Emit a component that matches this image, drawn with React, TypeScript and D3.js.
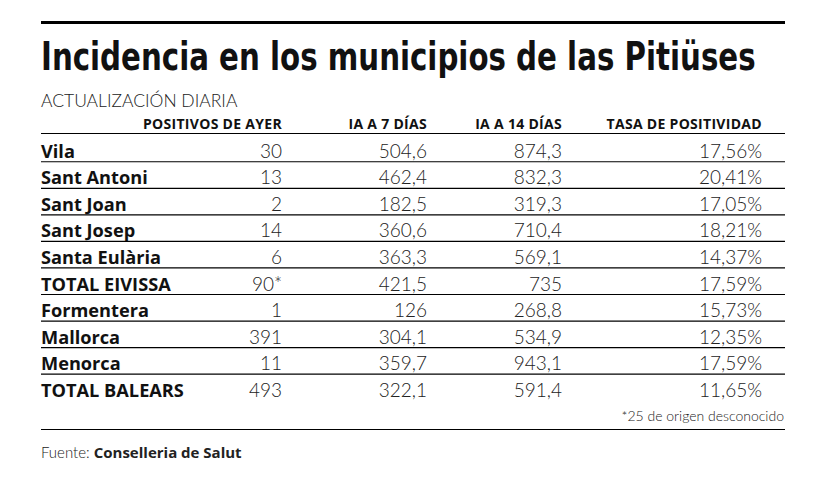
import React, { useLayoutEffect, useRef, useState } from 'react';
import * as d3 from 'd3';

const title = 'Incidencia en los municipios de las Pitiüses';
const subtitle = 'ACTUALIZACIÓN DIARIA';
const headers = ['POSITIVOS DE AYER', 'IA A 7 DÍAS', 'IA A 14 DÍAS', 'TASA DE POSITIVIDAD'];
const places = [
  'Vila',
  'Sant Antoni',
  'Sant Joan',
  'Sant Josep',
  'Santa Eulària',
  'TOTAL EIVISSA',
  'Formentera',
  'Mallorca',
  'Menorca',
  'TOTAL BALEARS'
];
const positivos = [30, 13, 2, 14, 6, 90, 1, 391, 11, 493];
const positivosMark = ['', '', '', '', '', '*', '', '', '', ''];
const ia7 = [504.6, 462.4, 182.5, 360.6, 363.3, 421.5, 126, 304.1, 359.7, 322.1];
const ia14 = [874.3, 832.3, 319.3, 710.4, 569.1, 735, 268.8, 534.9, 943.1, 591.4];
const tasa = [17.56, 20.41, 17.05, 18.21, 14.37, 17.59, 15.73, 12.35, 17.59, 11.65];
const footnote = '*25 de origen desconocido';
const sourceLabel = 'Fuente: ';
const sourceName = 'Conselleria de Salut';

const W = 826,
  H = 486;
const left = 41,
  right = 785;
const titleWidth = 715;

const es = d3.formatLocale({ decimal: ',', thousands: '.', grouping: [3], currency: ['', '€'] });
const fmt1 = (v: number) => (Number.isInteger(v) ? es.format('d')(v) : es.format('.1f')(v));
const fmt2 = (v: number) => es.format('.2f')(v) + '%';

const lightFont = 'Lato, "Open Sans", sans-serif';
const heavyFont = '"Open Sans", Lato, sans-serif';

export default function App() {
  const titleRef = useRef<SVGTextElement>(null);
  const [sx, setSx] = useState(1);

  // squeeze the title horizontally so it spans the same width as the original
  useLayoutEffect(() => {
    if (!titleRef.current) return;
    const w = titleRef.current.getComputedTextLength();
    if (w > 0) setSx(titleWidth / w);
  }, []);

  const y = d3
    .scaleBand<string>()
    .domain(places)
    .range([135.2, 400.7])
    .padding(0);
  const bw = y.bandwidth();

  // right edges of the four value columns
  const colX = d3.scaleOrdinal<number, number>().domain([0, 1, 2, 3]).range([282, 427, 562, 762]);

  const cells = [
    (i: number) => positivos[i] + positivosMark[i],
    (i: number) => fmt1(ia7[i]),
    (i: number) => fmt1(ia14[i]),
    (i: number) => fmt2(tasa[i])
  ];

  return (
    <svg
      width={W}
      height={H}
      style={{ position: 'absolute', left: 0, top: 0, background: '#fff' }}
    >
      <rect width={W} height={H} fill="#fff" />
      <line x1={left} x2={right} y1={22.5} y2={22.5} stroke="#000" strokeWidth={3} />
      <text
        ref={titleRef}
        transform={`translate(${left},70) scale(${sx},1)`}
        fontFamily='"Liberation Sans Narrow", "DejaVu Sans Condensed", Roboto, sans-serif'
        fontWeight={700}
        fontSize={39}
        fill="#111"
      >
        {title}
      </text>
      <text x={left} y={107} fontFamily={lightFont} fontWeight={300} fontSize={17.5} fill="#222">
        {subtitle}
      </text>

      {headers.map((h, j) => (
        <text
          key={h}
          x={colX(j)}
          y={129}
          textAnchor="end"
          fontFamily={heavyFont}
          fontWeight={700}
          fontSize={14}
          letterSpacing={0.3}
          fill="#111"
        >
          {h}
        </text>
      ))}
      <line x1={left} x2={right} y1={133.5} y2={133.5} stroke="#000" strokeWidth={1.2} />

      {places.map((p, i) => {
        const top = y(p) as number;
        const base = top + bw - 4;
        return (
          <g key={p}>
            <text
              x={left}
              y={base}
              fontFamily={heavyFont}
              fontWeight={700}
              fontSize={18.2}
              fill="#111"
            >
              {p}
            </text>
            {cells.map((c, j) => (
              <text
                key={j}
                x={colX(j)}
                y={base}
                textAnchor="end"
                fontFamily={lightFont}
                fontWeight={300}
                fontSize={19}
                fill="#222"
              >
                {c(i)}
              </text>
            ))}
            {i < places.length - 1 && (
              <line
                x1={left}
                x2={right}
                y1={top + bw}
                y2={top + bw}
                stroke="#000"
                strokeWidth={1.2}
              />
            )}
          </g>
        );
      })}

      <text x={784} y={421} textAnchor="end" fontFamily={lightFont} fontWeight={300} fontSize={14} fill="#222">
        {footnote}
      </text>
      <line x1={left} x2={right} y1={429.5} y2={429.5} stroke="#000" strokeWidth={1.2} />
      <text x={left} y={458} fontFamily={lightFont} fontSize={15} fill="#222">
        <tspan fontWeight={300}>{sourceLabel}</tspan>
        <tspan fontFamily={heavyFont} fontWeight={700}>
          {sourceName}
        </tspan>
      </text>
    </svg>
  );
}
